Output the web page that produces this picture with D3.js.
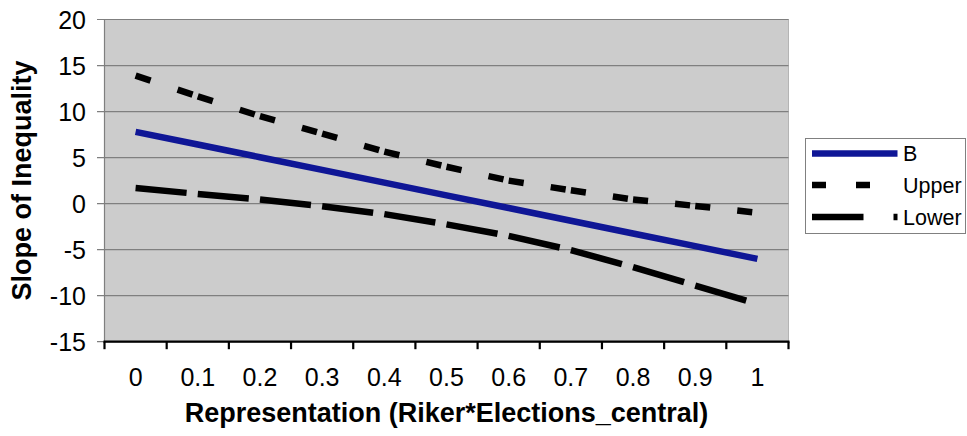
<!DOCTYPE html>
<html>
<head>
<meta charset="utf-8">
<script src="https://cdn.jsdelivr.net/npm/d3@7"></script>
<style>
  body { margin: 0; background: #fff; }
  text { font-family: "Liberation Sans", Arial, sans-serif; }
</style>
</head>
<body>
<svg id="chart"></svg>
<script>
// values
var categories = ["0", "0.1", "0.2", "0.3", "0.4", "0.5", "0.6", "0.7", "0.8", "0.9", "1"];
var bValues = [7.8, 6.42, 5.04, 3.66, 2.28, 0.9, -0.48, -1.86, -3.24, -4.62, -6.0];
var upperValues = [13.9, 11.65, 9.5, 7.6, 5.65, 4.0, 2.5, 1.45, 0.45, -0.25, -1.0];
var lowerValues = [1.7, 1.05, 0.45, -0.28, -1.14, -2.25, -3.5, -5.05, -6.9, -8.9, -10.9];
var yTicks = [-15, -10, -5, 0, 5, 10, 15, 20];

var w = 967, h = 436;
var svg = d3.select("#chart").attr("width", w).attr("height", h);

// note: "top" is taken by window.top, so plot edges get their own names
var plotL = 104.5, plotR = 788.5, plotT = 19.5, plotB = 341.7;

var x = d3.scaleBand().domain(categories).range([plotL, plotR]).padding(0);
var y = d3.scaleLinear().domain([-15, 20]).range([plotB, plotT]);
var cx = function (c) { return x(c) + x.bandwidth() / 2; };

// plot area
svg.append("rect")
  .attr("x", plotL).attr("y", plotT)
  .attr("width", plotR - plotL).attr("height", plotB - plotT)
  .attr("fill", "#cccccc")
  .attr("stroke", "#b4b4b4");

// gridlines + left ticks
svg.selectAll(".grid").data(yTicks).enter().append("line")
  .attr("x1", plotL - 7.5).attr("x2", plotR)
  .attr("y1", function (d) { return y(d); })
  .attr("y2", function (d) { return y(d); })
  .attr("stroke", "#7f7f7f")
  .attr("stroke-width", 1.2);

svg.append("line")
  .attr("x1", plotL).attr("x2", plotL)
  .attr("y1", plotT).attr("y2", plotB)
  .attr("stroke", "#7f7f7f").attr("stroke-width", 1.2);

svg.selectAll(".ylab").data(yTicks).enter().append("text")
  .attr("x", 86)
  .attr("y", function (d) { return y(d) + 9; })
  .attr("text-anchor", "end")
  .attr("font-size", 25)
  .text(function (d) { return d; });

// bottom axis
svg.append("line")
  .attr("x1", plotL - 1).attr("x2", plotR + 1)
  .attr("y1", plotB).attr("y2", plotB)
  .attr("stroke", "#000").attr("stroke-width", 2.2);

var bounds = categories.map(function (c) { return x(c); }).concat([plotR]);
svg.selectAll(".xtick").data(bounds).enter().append("line")
  .attr("x1", function (d) { return d; })
  .attr("x2", function (d) { return d; })
  .attr("y1", plotB).attr("y2", plotB + 7.5)
  .attr("stroke", "#000").attr("stroke-width", 2.2);

svg.selectAll(".xlab").data(categories).enter().append("text")
  .attr("x", function (d) { return cx(d); })
  .attr("y", 385.7)
  .attr("text-anchor", "middle")
  .attr("font-size", 25)
  .text(function (d) { return d; });

// axis titles
svg.append("text")
  .attr("x", (plotL + plotR) / 2).attr("y", 422)
  .attr("text-anchor", "middle")
  .attr("font-size", 27).attr("font-weight", "bold")
  .text("Representation (Riker*Elections_central)");

svg.append("text")
  .attr("transform", "translate(31," + ((plotT + plotB) / 2) + ") rotate(-90)")
  .attr("text-anchor", "middle")
  .attr("font-size", 27).attr("font-weight", "bold")
  .text("Slope of Inequality");

// series, each segment restarts its dash pattern like the original
var series = [
  { name: "B", values: bValues, color: "#0f1696", dash: null, legendDash: null },
  { name: "Upper", values: upperValues, color: "#000", dash: "15,27,15,5.2", legendDash: "14,30,14,30" },
  { name: "Lower", values: lowerValues, color: "#000", dash: "51,11.2", legendDash: "51.5,30,51.5,30" }
];

var line = d3.line()
  .x(function (d) { return cx(d[0]); })
  .y(function (d) { return y(d[1]); });

function drawSeries(s) {
  var pts = categories.map(function (c, i) { return [c, s.values[i]]; });
  if (!s.dash) {
    svg.append("path")
      .attr("d", line(pts))
      .attr("fill", "none")
      .attr("stroke", s.color)
      .attr("stroke-width", 6.5);
    return;
  }
  var segs = d3.pairs(pts);
  svg.selectAll(".seg-" + s.name).data(segs).enter().append("path")
    .attr("d", function (d) { return line(d); })
    .attr("pathLength", x.bandwidth())
    .attr("fill", "none")
    .attr("stroke", s.color)
    .attr("stroke-width", 6.5)
    .attr("stroke-dasharray", s.dash);
}
// draw order: Lower, Upper, then B on top
drawSeries(series[2]);
drawSeries(series[1]);
drawSeries(series[0]);

// legend
var legend = svg.append("g");
legend.append("rect")
  .attr("x", 805.5).attr("y", 138.5)
  .attr("width", 160).attr("height", 95)
  .attr("fill", "#fff")
  .attr("stroke", "#808080");

var legY = [153.5, 185, 217];
series.forEach(function (s, i) {
  legend.append("line")
    .attr("x1", 812).attr("x2", 897.5)
    .attr("y1", legY[i]).attr("y2", legY[i])
    .attr("stroke", s.color)
    .attr("stroke-width", 6.5)
    .attr("stroke-dasharray", s.legendDash);
  legend.append("text")
    .attr("x", 903)
    .attr("y", legY[i] + 7.7)
    .attr("font-size", 21.5)
    .text(s.name);
});
</script>
</body>
</html>
